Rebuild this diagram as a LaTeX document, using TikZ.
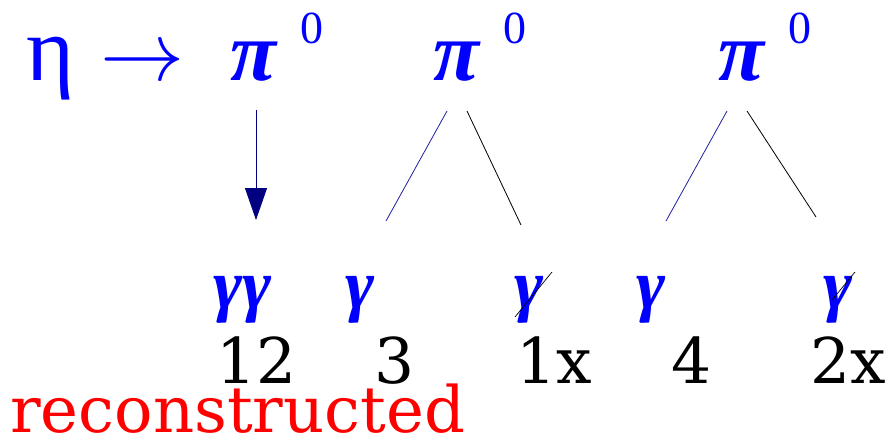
\documentclass[tikz,border=0pt]{standalone}
\usepackage{fix-cm}
\usepackage{fontspec}
\setmainfont{DejaVu Serif}
\newfontfamily\grk{Liberation Serif}
\usetikzlibrary{arrows.meta}
\definecolor{pblue}{HTML}{0000FF}
\definecolor{dnavy}{HTML}{000080}
\definecolor{lblue}{HTML}{2020A0}
\tikzset{
  big/.style={text=pblue,inner sep=0pt,anchor=base west,font=\grk\fontsize{84}{84}\selectfont},
  pio/.style={big,font=\grk\bfseries\itshape\fontsize{84}{84}\selectfont},
  supz/.style={big,font=\grk\fontsize{46}{46}\selectfont},
  gam/.style={big,font=\grk\bfseries\itshape\fontsize{70}{70}\selectfont},
  num/.style={inner sep=0pt,anchor=base west,font=\fontsize{63}{63}\selectfont},
  decay/.style={-{Triangle[width=22pt,length=32pt]},draw=dnavy,line width=0.9pt},
  legb/.style={draw=lblue,line width=0.8pt},
  legk/.style={draw=black,line width=0.8pt},
  slash/.style={draw=black,line width=0.7pt},
}
\begin{document}
\begin{tikzpicture}[x=1pt,y=-1pt]
\useasboundingbox (0,0) rectangle (890,440);
% top row
\node[big,font=\grk\fontsize{92}{92}\selectfont] (eta) at (26,80) {η};
\node[big] (to) at (100,80) {$\rightarrow$};
\node[pio] (pi1) at (230,80) {π};
\node[supz] (z1) at (300,43) {0};
\node[pio] (pi2) at (433,80) {π};
\node[supz] (z2) at (503,43) {0};
\node[pio] (pi3) at (718,80) {π};
\node[supz] (z3) at (788,43) {0};
% photons
\node[gam] (gg) at (213,308) {γγ};
\node[gam] (g3) at (345,308) {γ};
\node[gam] (gx1) at (514,308) {γ};
\node[gam] (g4) at (636,308) {γ};
\node[gam] (gx2) at (823,308) {γ};
\draw[slash] (515,317) -- (552,272);
\draw[slash] (832,300) -- (855,272);
% numbers
\node[num] (n12) at (216,383) {12};
\node[num] (n3) at (374,383) {3};
\node[num] (nx1) at (516,383) {1x};
\node[num] (n4) at (671,383) {4};
\node[num] (nx2) at (810,383) {2x};
\node[num,text=red,font=\fontsize{64}{64}\selectfont] (reco) at (10,432) {reconstructed};
% decay legs
\coordinate (a1) at (256,110); \coordinate (a2) at (256,220);
\draw[decay] (a1) -- (a2);
\coordinate (b0) at (447,111); \coordinate (b1) at (386,221);
\coordinate (c0) at (467,111); \coordinate (c1) at (521,225);
\draw[legb] (b0) -- (b1); \draw[legk] (c0) -- (c1);
\coordinate (d0) at (727,111); \coordinate (d1) at (666,221);
\coordinate (e0) at (747,111); \coordinate (e1) at (816,217);
\draw[legb] (d0) -- (d1); \draw[legk] (e0) -- (e1);
\end{tikzpicture}
\end{document}
